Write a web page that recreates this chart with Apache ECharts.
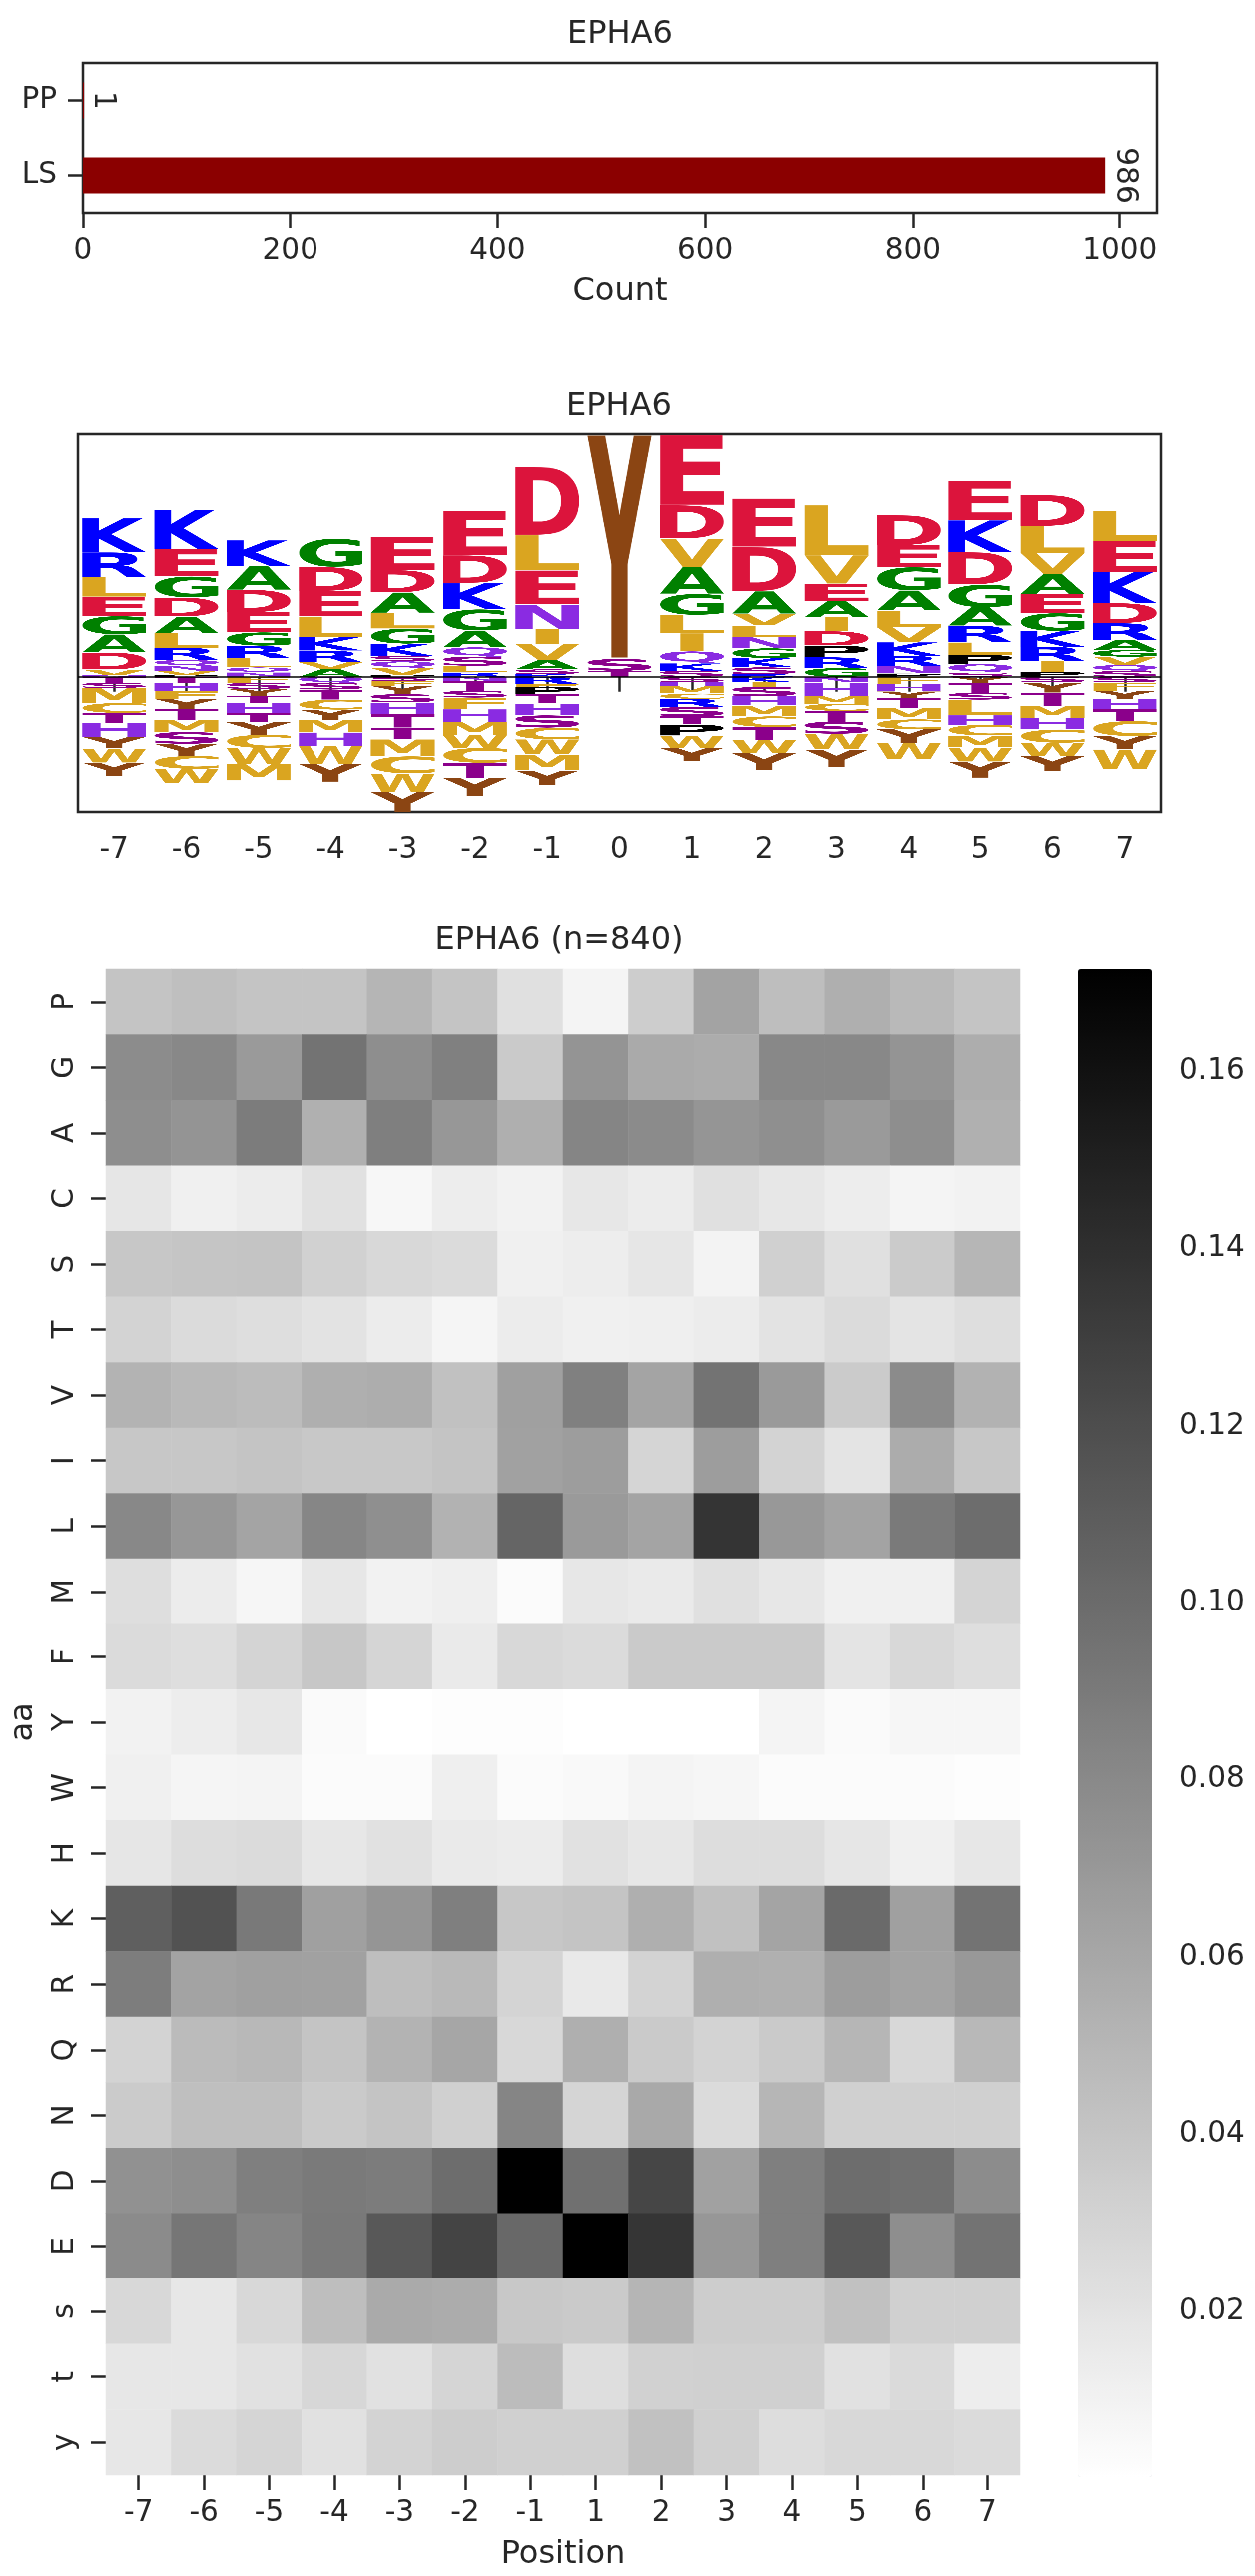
<!DOCTYPE html>
<html>
<head>
<meta charset="utf-8">
<script src="https://cdn.jsdelivr.net/npm/echarts@6/dist/echarts.min.js"></script>
<style>
  html, body { margin: 0; padding: 0; background: #fff; }
  #main { width: 1257px; height: 2580px; }
</style>
</head>
<body>
<div id="main"></div>
<script>
// ---- counts (top bar chart)
const countCats = ['LS', 'PP'];
const countValues = [986, 1];

// ---- sequence logo: letters stacked from zero outward, with their heights
const logoPos = ['-7','-6','-5','-4','-3','-2','-1','0','1','2','3','4','5','6','7'];
// positive stacks, bottom -> top
const upLetters = ['NVDAGELRK','PVNQRLADGEK','NQLRGEDAK','AVRKLEDG','PVQSKGLADE','RLSQAGKDE','KSAVINELD','TSY',
  'SKQILGAVDE','RSKGNLVADE','GRPDIAEVL','PNRKVLAGED','SQPLRAGDKE','PIRKGEAVLD','SQVGARDKEL'];
const upHeights = [
  [.015,.057,.17,.18,.183,.193,.193,.25,.34],
  [.017,.043,.05,.057,.123,.143,.167,.19,.21,.273,.393],
  [.043,.05,.09,.127,.133,.20,.223,.237,.257],
  [.077,.067,.117,.133,.207,.253,.24,.283],
  [.02,.067,.067,.053,.123,.15,.157,.203,.223,.333],
  [.043,.067,.09,.093,.167,.213,.26,.277,.44],
  [.027,.047,.093,.16,.15,.243,.34,.35,.683],
  [.06,.117,2.24],
  [.06,.073,.12,.18,.183,.21,.267,.283,.333,.70],
  [.027,.067,.093,.097,.11,.117,.117,.223,.443,.483],
  [.087,.107,.117,.143,.14,.16,.173,.283,.50],
  [.033,.077,.10,.133,.15,.167,.20,.233,.217,.30],
  [.043,.083,.093,.123,.167,.183,.227,.323,.317,.393],
  [.05,.107,.143,.157,.177,.19,.20,.21,.267,.31],
  [.057,.06,.083,.067,.10,.167,.20,.31,.307,.30]
];
// negative stacks, zero -> bottom (lower case = phospho residue, drawn in capitals)
const downLetters = ['TSMCtHYWy','THFYtMsyCW','FSYTHtyCWM','QSTCYMHWy','sFYSHTtMCWy','NTSFHMWCtY','RFPTHSCWMY','',
  'SHMCRsTPWY','KISHMCTWY','NHMCTSWY','FHYTMCyW','YTSLHCMWy','SYTMHCWy','SFYHTCyW'];
const downHeights = [
  [.06,.05,.15,.10,.10,.137,.117,.14,.133],
  [.06,.083,.077,.10,.107,.123,.117,.12,.13,.143],
  [.06,.06,.067,.073,.10,.093,.123,.133,.157,.167],
  [.06,.067,.10,.10,.10,.127,.133,.18,.177],
  [.04,.05,.083,.083,.117,.133,.117,.167,.173,.183,.20],
  [.04,.10,.067,.117,.123,.133,.127,.15,.15,.183],
  [.073,.027,.073,.093,.117,.123,.117,.15,.16,.147],
  [],
  [.053,.04,.073,.053,.08,.093,.083,.11,.123,.133],
  [.053,.047,.093,.093,.107,.107,.127,.133,.173],
  [.057,.133,.077,.073,.107,.12,.157,.177],
  [.073,.073,.067,.10,.11,.10,.133,.167],
  [.06,.10,.067,.157,.093,.107,.12,.14,.16],
  [.057,.10,.133,.117,.117,.133,.133,.15],
  [.057,.083,.083,.10,.117,.15,.133,.20]
];

// ---- heatmap of residue frequencies
const heatCols = ['-7','-6','-5','-4','-3','-2','-1','1','2','3','4','5','6','7'];
const heatRows = ['P','G','A','C','S','T','V','I','L','M','F','Y','W','H','K','R','Q','N','D','E','s','t','y'];
const heatValues = [
  [.041,.044,.041,.041,.051,.041,.022,.0086,.035,.063,.045,.055,.048,.041],
  [.078,.081,.069,.095,.077,.086,.037,.073,.058,.057,.081,.081,.073,.056],
  [.077,.073,.089,.054,.087,.071,.055,.083,.079,.072,.076,.069,.077,.054],
  [.018,.011,.014,.021,.0066,.013,.010,.017,.014,.022,.017,.013,.0086,.010],
  [.039,.040,.041,.032,.027,.025,.011,.013,.018,.0093,.033,.022,.036,.050],
  [.031,.025,.023,.020,.014,.008,.014,.011,.012,.014,.020,.025,.019,.023],
  [.052,.048,.046,.055,.056,.043,.065,.086,.062,.095,.069,.036,.079,.053],
  [.039,.039,.041,.038,.038,.041,.064,.067,.029,.067,.031,.019,.057,.039],
  [.081,.071,.062,.082,.076,.053,.104,.069,.062,.137,.070,.063,.090,.099],
  [.023,.014,.0073,.017,.010,.012,.004,.017,.015,.022,.017,.011,.011,.030],
  [.025,.023,.030,.039,.029,.015,.027,.025,.037,.037,.037,.019,.027,.023],
  [.010,.013,.017,.0046,.0013,.0026,.0026,.0013,.0013,.0013,.0086,.0046,.0073,.0073],
  [.011,.008,.0086,.004,.004,.012,.004,.0053,.0086,.0073,.004,.004,.004,.0026],
  [.018,.024,.025,.017,.021,.015,.014,.021,.017,.024,.024,.018,.011,.017],
  [.108,.117,.091,.065,.072,.087,.039,.041,.055,.043,.062,.101,.065,.095],
  [.088,.063,.065,.064,.045,.048,.030,.016,.031,.055,.054,.067,.063,.070],
  [.031,.047,.049,.041,.052,.061,.027,.055,.037,.031,.037,.050,.027,.049],
  [.036,.044,.044,.037,.041,.033,.083,.029,.059,.025,.050,.033,.033,.033],
  [.075,.077,.087,.090,.089,.099,.1715,.097,.125,.064,.087,.099,.097,.078],
  [.079,.093,.083,.091,.113,.126,.102,.1715,.136,.071,.087,.113,.077,.095],
  [.027,.017,.027,.045,.058,.057,.038,.037,.051,.035,.035,.043,.033,.033],
  [.017,.017,.021,.028,.021,.029,.046,.023,.032,.033,.033,.021,.026,.013],
  [.017,.025,.029,.021,.031,.035,.033,.033,.043,.033,.024,.027,.027,.025]
];
const colorbarTicks = [0.02, 0.04, 0.06, 0.08, 0.10, 0.12, 0.14, 0.16];

const FONT = '"DejaVu Sans", sans-serif';
const INK = '#262626';

// letter colours
const letterColor = {
  K:'#0000ff', R:'#0000ff', D:'#dc143c', E:'#dc143c', G:'#008000', A:'#008000',
  L:'#daa520', V:'#daa520', I:'#daa520', M:'#daa520', C:'#daa520', W:'#daa520', F:'#daa520',
  Y:'#8b4513', S:'#8b008b', T:'#8b008b', N:'#8a2be2', Q:'#8a2be2', H:'#8a2be2', P:'#000000'
};

// pre-render each glyph tightly cropped to its ink so it can be stretched into a box
const glyphCache = {};
function glyph(ch) {
  if (glyphCache[ch]) return glyphCache[ch];
  const c = document.createElement('canvas');
  let ctx = c.getContext('2d');
  const font = 'bold 200px "DejaVu Sans"';
  ctx.font = font;
  const m = ctx.measureText(ch);
  const w = Math.ceil(m.actualBoundingBoxLeft + m.actualBoundingBoxRight) + 2;
  const h = Math.ceil(m.actualBoundingBoxAscent + m.actualBoundingBoxDescent) + 2;
  c.width = w; c.height = h;
  ctx = c.getContext('2d');
  ctx.font = font;
  ctx.fillStyle = letterColor[ch];
  ctx.fillText(ch, m.actualBoundingBoxLeft + 1, m.actualBoundingBoxAscent + 1);
  glyphCache[ch] = { canvas: c, w: w };
  return glyphCache[ch];
}

// build the stacked letter rectangles
const logoItems = [];
const logoChars = [];
let logoMax = 0, logoMin = 0;
logoPos.forEach((p, i) => {
  let y = 0;
  upLetters[i].split('').forEach((ch, k) => {
    logoItems.push([i, y, y + upHeights[i][k]]);
    logoChars.push(ch.toUpperCase());
    y += upHeights[i][k];
  });
  logoMax = Math.max(logoMax, y);
  y = 0;
  downLetters[i].split('').forEach((ch, k) => {
    logoItems.push([i, y, y - downHeights[i][k]]);
    logoChars.push(ch.toUpperCase());
    y -= downHeights[i][k];
  });
  logoMin = Math.min(logoMin, y);
});

const heatData = [];
let heatMin = Infinity, heatMax = -Infinity;
heatRows.forEach((r, ri) => {
  heatCols.forEach((c, ci) => {
    const v = heatValues[ri][ci];
    heatData.push([ci, ri, v]);
    heatMin = Math.min(heatMin, v);
    heatMax = Math.max(heatMax, v);
  });
});

const tickStyle = { show: true, length: 15, lineStyle: { color: INK, width: 2.5 } };
const labelStyle = { color: INK, fontSize: 29.5, fontFamily: FONT };
const nameStyle = { color: INK, fontSize: 32, fontFamily: FONT };

const chart = echarts.init(document.getElementById('main'), null, { renderer: 'canvas' });

const option = {
  backgroundColor: '#ffffff',
  animation: false,
  textStyle: { fontFamily: FONT },
  title: [
    { text: 'EPHA6', left: 621, top: 19, textAlign: 'center', padding: 0,
      textStyle: { fontSize: 32, fontWeight: 'normal', color: INK, fontFamily: FONT } },
    { text: 'EPHA6', left: 620, top: 392, textAlign: 'center', padding: 0,
      textStyle: { fontSize: 32, fontWeight: 'normal', color: INK, fontFamily: FONT } },
    { text: 'EPHA6 (n=840)', left: 560, top: 926, textAlign: 'center', padding: 0,
      textStyle: { fontSize: 32, fontWeight: 'normal', color: INK, fontFamily: FONT } }
  ],
  grid: [
    { left: 83, top: 63, width: 1076, height: 150, show: true, borderColor: INK, borderWidth: 2.5 },
    { left: 78, top: 435, width: 1085, height: 378, show: true, borderColor: INK, borderWidth: 2.5 },
    { left: 99, top: 971, width: 923, height: 1510 },
    { left: 1080, top: 971, width: 74, height: 1510 }
  ],
  xAxis: [
    { gridIndex: 0, type: 'value', min: 0, max: 1035.9, interval: 200,
      axisLine: { show: false }, axisTick: tickStyle, splitLine: { show: false },
      axisLabel: Object.assign({ margin: 23, showMaxLabel: false, formatter: v => String(v) }, labelStyle),
      name: 'Count', nameLocation: 'middle', nameGap: 63, nameTextStyle: nameStyle },
    { gridIndex: 1, type: 'category', data: logoPos, boundaryGap: true,
      axisLine: { show: false }, axisTick: Object.assign({ alignWithLabel: true }, tickStyle),
      axisLabel: Object.assign({ margin: 23, interval: 0 }, labelStyle), splitLine: { show: false } },
    { gridIndex: 2, type: 'category', data: heatCols, position: 'bottom',
      axisLine: { show: false }, axisTick: Object.assign({ alignWithLabel: true }, tickStyle),
      axisLabel: Object.assign({ margin: 23, interval: 0 }, labelStyle), splitLine: { show: false },
      name: 'Position', nameLocation: 'middle', nameGap: 64, nameTextStyle: nameStyle },
    { gridIndex: 3, type: 'value', show: false }
  ],
  yAxis: [
    { gridIndex: 0, type: 'category', data: countCats,
      axisLine: { show: false }, axisTick: Object.assign({ alignWithLabel: true }, tickStyle),
      axisLabel: Object.assign({ margin: 26 }, labelStyle), splitLine: { show: false } },
    { gridIndex: 1, type: 'value', min: logoMin, max: logoMax,
      axisLine: { show: false }, axisTick: { show: false }, axisLabel: { show: false }, splitLine: { show: false } },
    { gridIndex: 2, type: 'category', data: heatRows, inverse: true,
      axisLine: { show: false }, axisTick: Object.assign({ alignWithLabel: true }, tickStyle),
      axisLabel: Object.assign({ margin: 26, rotate: 90, interval: 0 }, labelStyle), splitLine: { show: false },
      name: 'aa', nameLocation: 'middle', nameGap: 66, nameTextStyle: nameStyle },
    { gridIndex: 3, type: 'value', position: 'right', min: heatMin, max: heatMax,
      axisLine: { show: false }, splitLine: { show: false },
      axisTick: Object.assign({ customValues: colorbarTicks }, tickStyle),
      axisLabel: Object.assign({ margin: 27, customValues: colorbarTicks,
        formatter: v => v.toFixed(2) }, labelStyle) }
  ],
  visualMap: {
    type: 'continuous', seriesIndex: 2, min: heatMin, max: heatMax,
    inRange: { color: ['#ffffff', '#000000'] },
    left: 1080, top: 971, itemWidth: 74, itemHeight: 1510, padding: 0,
    calculable: false, hoverLink: false, realtime: false, text: null
  },
  series: [
    {
      type: 'bar', xAxisIndex: 0, yAxisIndex: 0, data: countValues, barWidth: 36,
      itemStyle: { color: '#8b0000' },
      label: { show: true, position: 'right', rotate: -90, align: 'center', verticalAlign: 'bottom',
        distance: 4, color: INK, fontSize: 29.5, fontFamily: FONT }
    },
    {
      type: 'custom', xAxisIndex: 1, yAxisIndex: 1, data: logoItems,
      encode: { x: 0, y: [1, 2] },
      renderItem: function (params, api) {
        const xi = api.value(0);
        const pa = api.coord([xi, api.value(1)]);
        const pb = api.coord([xi, api.value(2)]);
        const band = api.size([1, 0])[0];
        const fullW = band * 0.9;
        const ch = logoChars[params.dataIndex];
        const g = glyph(ch);
        const e = glyph('E');
        const w = Math.min(fullW, fullW * g.w / e.w);
        const top = Math.min(pa[1], pb[1]);
        const h = Math.abs(pa[1] - pb[1]);
        return {
          type: 'image',
          style: { image: g.canvas, x: pa[0] - w / 2, y: top, width: w, height: h }
        };
      },
      markLine: {
        silent: true, symbol: ['none', 'none'], label: { show: false },
        lineStyle: { color: '#000000', width: 1.5, type: 'solid' },
        data: [{ yAxis: 0 }]
      }
    },
    {
      type: 'heatmap', xAxisIndex: 2, yAxisIndex: 2, data: heatData,
      itemStyle: { borderWidth: 0 }, emphasis: { disabled: true }, progressive: 0
    }
  ]
};

chart.setOption(option);
</script>
</body>
</html>
